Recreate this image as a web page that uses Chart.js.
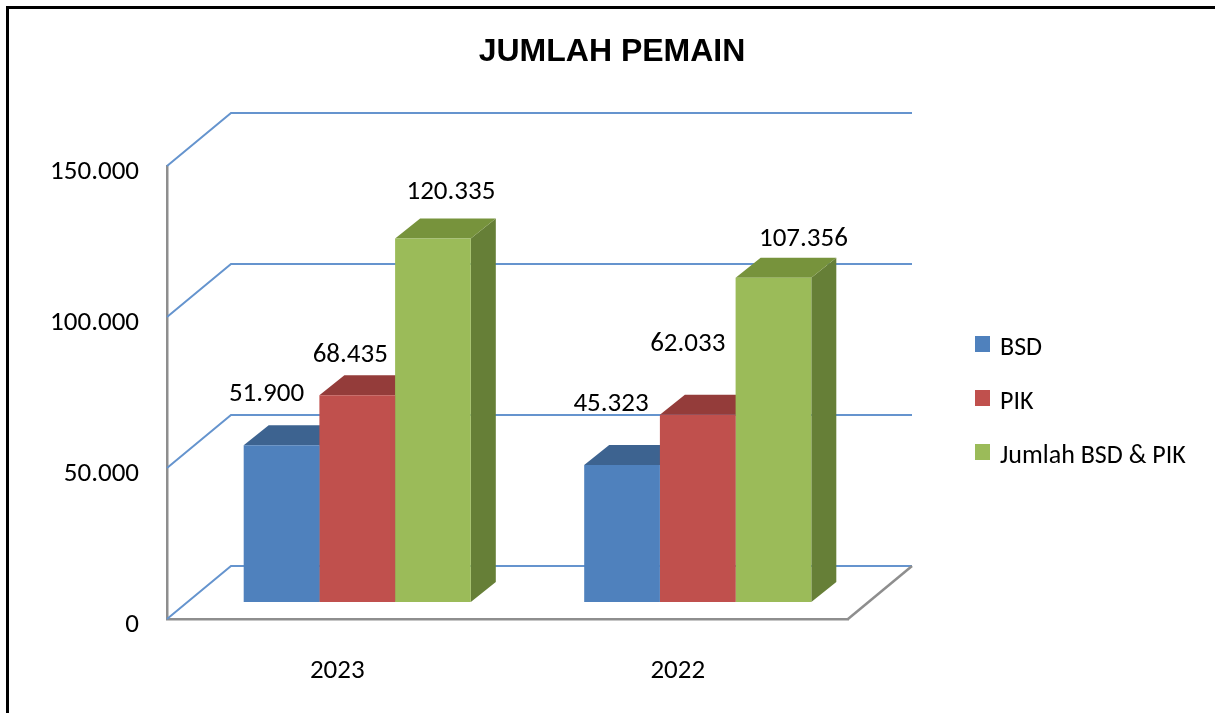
<!DOCTYPE html>
<html>
<head>
<meta charset="utf-8">
<title>Jumlah Pemain</title>
<script src="https://cdn.jsdelivr.net/npm/chart.js@4.4.1/dist/chart.umd.min.js"></script>
<style>
  html, body { margin: 0; padding: 0; background: #fff; }
  #wrap { width: 1215px; height: 713px; position: relative; }
</style>
</head>
<body>
<div id="wrap"><canvas id="chart"></canvas></div>
<script>
// ---- data ----
const years = ['2023', '2022'];
const bsd   = [51900, 45323];
const pik   = [68435, 62033];
const total = [120335, 107356];
const seriesNames = ['BSD', 'PIK', 'Jumlah BSD & PIK'];
const yMax  = 150000;
const yStep = 50000;

// ---- look ----
const frontColors = ['#4F81BD', '#C0504D', '#9BBB59'];
const topColors   = ['#3D6390', '#943C3A', '#77933C'];
const sideColors  = ['#365780', '#84353A', '#667F37'];
const barShift = { x: 20, y: -17 };   // bar plane vs front plane
const barDepth = { x: 25, y: -20 };   // 3d depth of a bar
const wallDepth = { x: 64, y: -53 };  // back wall vs front plane
// label offsets from the top-front centre of each bar
const labelNudge = [
  [[-15, -53], [-11, -63]],
  [[-7, -42], [-10, -72]],
  [[18, -48], [30, -40]]
];
const textFont = "'Carlito', 'Open Sans', sans-serif";

function fmt(v) {
  return String(v).replace(/\B(?=(\d{3})+(?!\d))/g, '.');
}

function poly(ctx, pts, fill) {
  ctx.beginPath();
  ctx.moveTo(pts[0][0], pts[0][1]);
  for (let i = 1; i < pts.length; i++) ctx.lineTo(pts[i][0], pts[i][1]);
  ctx.closePath();
  ctx.fillStyle = fill;
  ctx.fill();
}

function barRect(bar) {
  const p = bar.getProps(['x', 'y', 'base', 'width'], true);
  return {
    l: p.x - p.width / 2 + barShift.x,
    r: p.x + p.width / 2 + barShift.x,
    t: p.y + barShift.y,
    b: p.base + barShift.y,
    cx: p.x + barShift.x
  };
}

const box3d = {
  id: 'box3d',
  beforeDatasetsDraw(chart) {
    const { ctx, chartArea: a, scales } = chart;
    const ys = scales.y;
    ctx.save();
    // back + left wall gridlines
    ctx.strokeStyle = '#6594CE';
    ctx.lineWidth = 2;
    for (let v = 0; v <= yMax; v += yStep) {
      const yy = ys.getPixelForValue(v);
      ctx.beginPath();
      ctx.moveTo(a.left, yy);
      ctx.lineTo(a.left + wallDepth.x, yy + wallDepth.y);
      ctx.lineTo(a.right + wallDepth.x, yy + wallDepth.y);
      ctx.stroke();
    }
    // floor right edge
    ctx.strokeStyle = '#8E8E8E';
    ctx.lineWidth = 2.5;
    ctx.beginPath();
    ctx.moveTo(a.right, a.bottom);
    ctx.lineTo(a.right + wallDepth.x, a.bottom + wallDepth.y);
    ctx.stroke();
    // top and side faces, left to right
    const metas = chart.data.datasets.map((d, i) => chart.getDatasetMeta(i));
    for (let j = 0; j < years.length; j++) {
      metas.forEach((meta, d) => {
        const r = barRect(meta.data[j]);
        const dx = barDepth.x, dy = barDepth.y;
        poly(ctx, [[r.r, r.t], [r.r + dx, r.t + dy], [r.r + dx, r.b + dy], [r.r, r.b]], sideColors[d]);
        poly(ctx, [[r.l, r.t], [r.r, r.t], [r.r + dx, r.t + dy], [r.l + dx, r.t + dy]], topColors[d]);
      });
    }
    ctx.restore();
    // front faces are drawn by Chart.js in the bar plane
    ctx.save();
    ctx.translate(barShift.x, barShift.y);
  },
  afterDatasetsDraw(chart) {
    const { ctx } = chart;
    ctx.restore();
    ctx.save();
    // data labels
    ctx.font = "27px " + textFont;
    ctx.fillStyle = '#000';
    ctx.textAlign = 'center';
    ctx.textBaseline = 'alphabetic';
    chart.data.datasets.forEach((ds, d) => {
      const meta = chart.getDatasetMeta(d);
      meta.data.forEach((bar, j) => {
        const r = barRect(bar);
        const n = labelNudge[d][j];
        ctx.fillText(fmt(ds.data[j]), r.cx + n[0], r.t + n[1] + 8.5);
      });
    });
    // legend
    ctx.textAlign = 'left';
    ctx.font = "26px " + textFont;
    chart.data.datasets.forEach((ds, d) => {
      const top = 336 + d * 54;
      ctx.fillStyle = ds.backgroundColor;
      ctx.fillRect(975, top, 15, 16);
      ctx.fillStyle = '#000';
      ctx.fillText(ds.label, 1000, top + 19);
    });
    // frame
    ctx.strokeStyle = '#000';
    ctx.lineWidth = 3;
    ctx.beginPath();
    ctx.moveTo(1215, 7.5);
    ctx.lineTo(7.5, 7.5);
    ctx.lineTo(7.5, 713);
    ctx.stroke();
    ctx.restore();
  }
};

const seriesData = [bsd, pik, total];

new Chart(document.getElementById('chart').getContext('2d'), {
  type: 'bar',
  data: {
    labels: years,
    datasets: seriesNames.map((name, i) => ({
      label: name,
      data: seriesData[i],
      backgroundColor: frontColors[i],
      borderWidth: 0,
      categoryPercentage: 0.667,
      barPercentage: 1,
      clip: false
    }))
  },
  options: {
    responsive: true,
    maintainAspectRatio: false,
    animation: false,
    devicePixelRatio: 1,
    layout: { padding: { left: 9, right: 0, top: 0, bottom: 0 } },
    plugins: {
      legend: { display: false },
      tooltip: { enabled: false },
      title: {
        display: true,
        text: 'JUMLAH PEMAIN',
        color: '#000',
        font: { family: "'Liberation Sans', Arial, sans-serif", size: 32, weight: 'bold' },
        padding: { top: 33, bottom: 94.6 }
      }
    },
    scales: {
      x: {
        grid: { display: false, drawTicks: false },
        border: { display: true, color: '#8E8E8E', width: 2.5 },
        ticks: { color: '#000', font: { family: textFont, size: 27 }, padding: 36 },
        afterFit(s) { s.height = 94; }
      },
      y: {
        min: 0,
        max: yMax,
        grid: { display: false, drawTicks: false },
        border: { display: true, color: '#8E8E8E', width: 2.5 },
        ticks: {
          stepSize: yStep,
          color: '#000',
          font: { family: textFont, size: 27 },
          padding: 28,
          labelOffset: 6,
          callback: (v) => fmt(v)
        },
        afterFit(s) { s.width = 158; }
      },
      // empty right-hand axis keeping room for the legend
      side: {
        position: 'right',
        display: true,
        grid: { display: false },
        border: { display: false },
        ticks: { display: false },
        afterFit(s) { s.width = 367; }
      }
    }
  },
  plugins: [box3d]
});
</script>
</body>
</html>
